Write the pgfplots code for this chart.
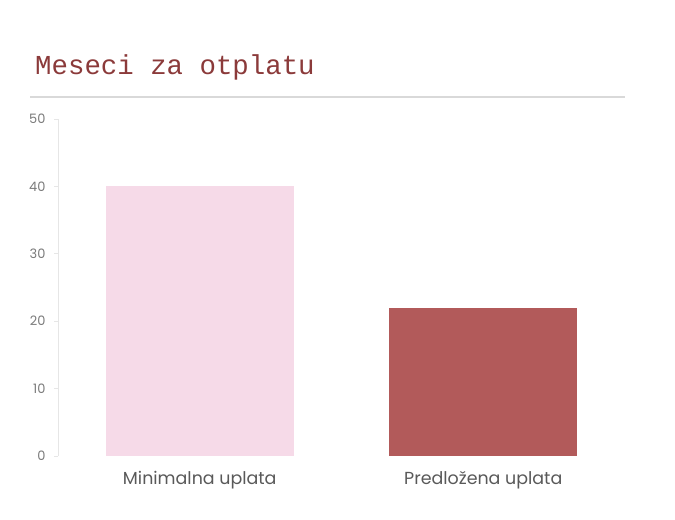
\documentclass[border=0pt]{standalone}
\usepackage{fontspec}
\setmainfont{Poppins}
\newfontfamily\titlefont{Liberation Mono}
\usepackage{pgfplots}
\pgfplotsset{compat=1.18}
\definecolor{titlered}{HTML}{8B3A3A}
\definecolor{barpink}{HTML}{F6DAE8}
\definecolor{barred}{HTML}{B25A5A}
\definecolor{rulegray}{HTML}{D9D9D9}
\definecolor{axisgray}{HTML}{E6E6E6}
\definecolor{ticktext}{HTML}{7A7A7A}
\definecolor{labeltext}{HTML}{595959}
\begin{document}
\begin{tikzpicture}
\path[use as bounding box] (0,0) rectangle (675bp,520bp);
% title and rule
\node[anchor=base west, inner sep=0pt, text=titlered, font=\titlefont\fontsize{27.5}{30}\selectfont]
  at (35bp,445bp) {Meseci za otplatu};
\draw[rulegray, line width=1.5bp] (30bp,423bp) -- (625bp,423bp);
\begin{axis}[
    at={(58bp,64bp)}, anchor=south west,
    scale only axis,
    width=567bp, height=337bp,
    xmin=-0.5, xmax=1.5,
    ymin=0, ymax=50,
    axis y line*=left,
    axis x line*=bottom,
    x axis line style={draw=none},
    y axis line style={axisgray, line width=1bp, -},
    ytick={0,10,...,50},
    xtick={0,1},
    xticklabels={Minimalna uplata, Predložena uplata},
    major x tick style={draw=none},
    major y tick style={axisgray, line width=1bp},
    tick align=outside,
    major tick length=4bp,
    /pgf/number format/assume math mode=true,
    yticklabel style={text=ticktext, font=\fontsize{13}{15}\selectfont, xshift=-5bp},
    xticklabel style={text=labeltext, font=\fontsize{17.5}{20}\selectfont, yshift=-8bp},
    clip=false,
]
\addplot[ybar, bar width=188bp, bar shift=0pt, fill=barpink, draw=none] coordinates {(0,40)};
\addplot[ybar, bar width=188bp, bar shift=0pt, fill=barred, draw=none] coordinates {(1,22)};
\end{axis}
\end{tikzpicture}
\end{document}
